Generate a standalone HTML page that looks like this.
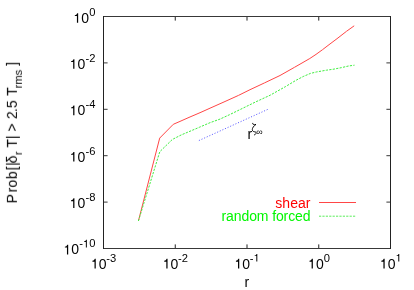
<!DOCTYPE html>
<html>
<head>
<meta charset="utf-8">
<title>plot</title>
<style>
html,body{margin:0;padding:0;background:#fff;}
body{width:414px;height:290px;overflow:hidden;position:relative;font-family:"Liberation Sans",sans-serif;}
svg{position:absolute;left:0;top:0;display:block;}
text{font-family:"Liberation Sans",sans-serif;fill:#000;}
</style>
</head>
<body>
<svg width="414" height="290" viewBox="0 0 414 290">
<rect x="0" y="0" width="414" height="290" fill="#fff"/>
<g stroke-width="1" fill="none">
<path stroke="#383838" d="M103 16.5H391M103 248.5H391"/>
<path stroke="#222" d="M103.5 16V249M390.5 16V249"/>
<path stroke="#383838" d="M104 62.9h3.6M104 109.3h3.6M104 155.7h3.6M104 202.1h3.6"/>
<path stroke="#383838" d="M390 62.9h-3.6M390 109.3h-3.6M390 155.7h-3.6M390 202.1h-3.6"/>
<path stroke="#222" d="M175.25 248v-3.6M247 248v-3.6M318.75 248v-3.6"/>
<path stroke="#222" d="M175.25 17v3.6M247 17v3.6M318.75 17v3.6"/>
</g>
<g fill="none" stroke-width="1" stroke-linejoin="round">
<polyline stroke="#ff4646" points="138.4,221 159.7,138.1 173.3,124.3 180,121.4 189,117.4 200,112.7 210,108.2 225,101.5 238.5,95.4 250,89.7 264.5,82.9 280,75.5 294.5,67.3 302,63.0 309.8,58.5 316,54.4 322.5,49.7 329,44.7 337,38.7 346.5,31.3 354.2,25.8"/>
<polyline stroke="#40ee40" stroke-dasharray="2.2 1.3" points="138.4,221 159.8,151.7 172.3,139.5 181.1,135.0 199.3,127.3 210,122.7 220,119.1 229.3,114.8 240,109.6 255.5,102.0 270,95.3 285.5,86.6 296,80.3 303.2,76.5 310.5,73.4 316.7,71.9 326.5,70.2 334,69.1 341.2,67.7 348.5,66.0 354.5,65.2"/>
<line stroke="#6060ff" stroke-dasharray="1.1 1.76" x1="198.9" y1="140.55" x2="268.2" y2="109.2"/>
</g>
<g opacity="0.999">
<line x1="319" y1="202.5" x2="356" y2="202.5" stroke="#ff4646" stroke-width="1"/>
<line x1="319" y1="216.2" x2="356" y2="216.2" stroke="#5aee5a" stroke-width="1" stroke-dasharray="2.2 1.2"/>
<text x="310.40" y="208.00" text-anchor="end" style="font-size:14px;fill:#ff0000;">shear</text>
<text x="310.40" y="221.30" text-anchor="end" style="letter-spacing:-0.11px;font-size:14px;fill:#00f600;">random forced</text>
<path d="M515 0V1004H207V1120Q480 1140 560 1409H696V0Z" transform="translate(73.40,22.80) scale(0.006836,-0.006836)" fill="#000"/><text x="81.18" y="22.80" style="font-size:14px;">0</text><text x="89.27" y="15.80" style="font-size:11.2px;">0</text>
<path d="M515 0V1004H207V1120Q480 1140 560 1409H696V0Z" transform="translate(69.67,68.80) scale(0.006836,-0.006836)" fill="#000"/><text x="77.46" y="68.80" style="font-size:14px;">0</text><text x="85.54" y="61.80" style="font-size:11.2px;">-</text><text x="89.27" y="61.80" style="font-size:11.2px;">2</text>
<path d="M515 0V1004H207V1120Q480 1140 560 1409H696V0Z" transform="translate(69.67,115.20) scale(0.006836,-0.006836)" fill="#000"/><text x="77.46" y="115.20" style="font-size:14px;">0</text><text x="85.54" y="108.20" style="font-size:11.2px;">-</text><text x="89.27" y="108.20" style="font-size:11.2px;">4</text>
<path d="M515 0V1004H207V1120Q480 1140 560 1409H696V0Z" transform="translate(69.67,161.60) scale(0.006836,-0.006836)" fill="#000"/><text x="77.46" y="161.60" style="font-size:14px;">0</text><text x="85.54" y="154.60" style="font-size:11.2px;">-</text><text x="89.27" y="154.60" style="font-size:11.2px;">6</text>
<path d="M515 0V1004H207V1120Q480 1140 560 1409H696V0Z" transform="translate(69.67,208.00) scale(0.006836,-0.006836)" fill="#000"/><text x="77.46" y="208.00" style="font-size:14px;">0</text><text x="85.54" y="201.00" style="font-size:11.2px;">-</text><text x="89.27" y="201.00" style="font-size:11.2px;">8</text>
<path d="M515 0V1004H207V1120Q480 1140 560 1409H696V0Z" transform="translate(63.44,254.40) scale(0.006836,-0.006836)" fill="#000"/><text x="71.23" y="254.40" style="font-size:14px;">0</text><text x="79.31" y="247.40" style="font-size:11.2px;">-</text><path d="M515 0V1004H207V1120Q480 1140 560 1409H696V0Z" transform="translate(83.04,247.40) scale(0.005469,-0.005469)" fill="#000"/><text x="89.27" y="247.40" style="font-size:11.2px;">0</text>
<path d="M515 0V1004H207V1120Q480 1140 560 1409H696V0Z" transform="translate(91.00,268.50) scale(0.006836,-0.006836)" fill="#000"/><text x="98.79" y="268.50" style="font-size:14px;">0</text><text x="106.27" y="261.60" style="font-size:11.2px;">-</text><text x="110.00" y="261.60" style="font-size:11.2px;">3</text>
<path d="M515 0V1004H207V1120Q480 1140 560 1409H696V0Z" transform="translate(162.80,268.50) scale(0.006836,-0.006836)" fill="#000"/><text x="170.59" y="268.50" style="font-size:14px;">0</text><text x="178.07" y="261.60" style="font-size:11.2px;">-</text><text x="181.80" y="261.60" style="font-size:11.2px;">2</text>
<path d="M515 0V1004H207V1120Q480 1140 560 1409H696V0Z" transform="translate(234.50,268.50) scale(0.006836,-0.006836)" fill="#000"/><text x="242.29" y="268.50" style="font-size:14px;">0</text><text x="249.77" y="261.60" style="font-size:11.2px;">-</text><path d="M515 0V1004H207V1120Q480 1140 560 1409H696V0Z" transform="translate(253.50,261.60) scale(0.005469,-0.005469)" fill="#000"/>
<path d="M515 0V1004H207V1120Q480 1140 560 1409H696V0Z" transform="translate(308.10,268.50) scale(0.006836,-0.006836)" fill="#000"/><text x="315.89" y="268.50" style="font-size:14px;">0</text><text x="323.67" y="261.60" style="font-size:11.2px;">0</text>
<path d="M515 0V1004H207V1120Q480 1140 560 1409H696V0Z" transform="translate(379.90,268.50) scale(0.006836,-0.006836)" fill="#000"/><text x="387.69" y="268.50" style="font-size:14px;">0</text><path d="M515 0V1004H207V1120Q480 1140 560 1409H696V0Z" transform="translate(395.47,261.60) scale(0.005469,-0.005469)" fill="#000"/>
<text x="244.50" y="287.20" style="font-size:14px;">r</text>
<text x="247.60" y="138.60" style="font-size:14px;">r</text><text x="256.30" y="134.50" style="font-size:9px;">∞</text>
<path d="M252.7,123.3 C252.5,124.7 253.6,125.0 256.0,124.4 C253.6,126.0 252.3,127.9 252.3,129.7 C252.3,131.5 253.9,131.7 255.3,131.9 C256.7,132.2 256.4,134.3 254.5,134.9" fill="none" stroke="#000" stroke-width="0.95" stroke-linecap="round" stroke-linejoin="round"/>
<g transform="translate(16.9,201.8) rotate(-90)">
<text x="-1.40" y="0.00" style="font-size:14px;">P</text><text x="9.50" y="0.00" style="font-size:14px;">ro</text><text x="22.80" y="0.00" style="font-size:14px;">b</text><text x="31.40" y="0.00" style="font-size:14px;">[</text><text x="36.00" y="0.00" style="font-size:14px;">|</text><text x="38.60" y="0.00" style="font-size:14px;">δ</text><text x="46.80" y="4.50" style="font-size:11.2px;">r</text><text x="54.20" y="0.00" style="font-size:14px;">T|</text><text x="70.20" y="0.00" style="font-size:14px;">&gt;</text><text x="82.70" y="0.00" style="font-size:14px;">2</text><text x="89.80" y="0.00" style="font-size:14px;">.5</text><text x="106.00" y="0.00" style="font-size:14px;">T</text><text x="113.50" y="4.50" style="font-size:11.2px;">rms</text><text x="136.10" y="0.00" style="font-size:14px;">]</text>
</g>
</g>
</svg>
</body>
</html>
